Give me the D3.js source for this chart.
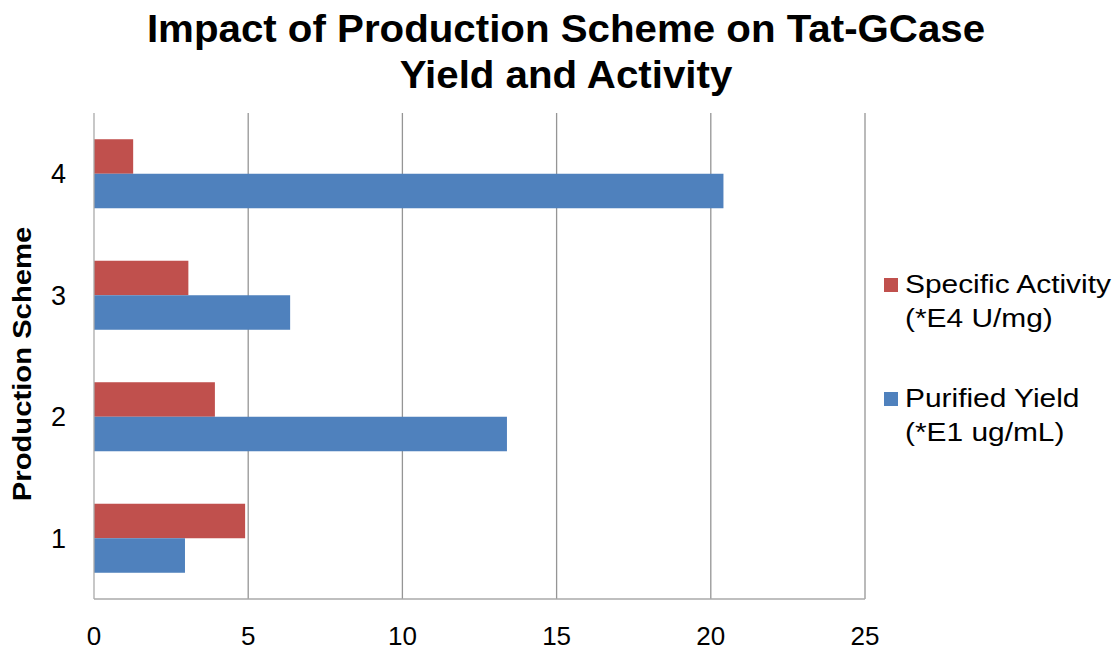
<!DOCTYPE html>
<html>
<head>
<meta charset="utf-8">
<script src="https://cdn.jsdelivr.net/npm/d3@7"></script>
<style>
body { margin: 0; background: #fff; }
text { font-family: "Liberation Sans", Arial, sans-serif; fill: #000; }
</style>
</head>
<body>
<svg></svg>
<script>
var width = 1115
var height = 649

var schemes = ["1", "2", "3", "4"]
var seriesNames = ["Specific Activity", "Purified Yield"]
var seriesUnits = ["(*E4 U/mg)", "(*E1 ug/mL)"]
var seriesColors = ["#C0504D", "#4F81BD"]
var activity = [4.9, 3.92, 3.06, 1.27]
var yieldVals = [2.95, 13.39, 6.36, 20.41]
var xTicks = [0, 5, 10, 15, 20, 25]

// plot box (note: "top" is reserved on window, so plotTop)
var plotLeft = 94, plotRight = 865, plotTop = 113, plotBottom = 599

var svg = d3.select("svg")
	.attr("width", width)
	.attr("height", height)

var data = schemes.map(function(s, i){
	return {scheme: s, values: [activity[i], yieldVals[i]]}
})

var xScale = d3.scaleLinear()
	.domain([0, 25])
	.range([plotLeft, plotRight])

// scheme 4 at the top
var yScale = d3.scaleBand()
	.domain(schemes.slice().reverse())
	.range([plotTop, plotBottom])
	.paddingInner(0.432)
	.paddingOuter(0.216)

var subScale = d3.scaleBand()
	.domain(d3.range(seriesNames.length))
	.range([0, yScale.bandwidth()])

// gridlines
svg.selectAll(".grid")
	.data(xTicks.slice(1))
	.join("line")
	.attr("class", "grid")
	.attr("x1", function(d){ return xScale(d) })
	.attr("x2", function(d){ return xScale(d) })
	.attr("y1", plotTop)
	.attr("y2", plotBottom)
	.attr("stroke", "#959595")
	.attr("stroke-width", 1.3)

// bars
var groups = svg.selectAll(".grp")
	.data(data)
	.join("g")
	.attr("class", "grp")
	.attr("transform", function(d){ return "translate(0," + yScale(d.scheme) + ")" })

groups.selectAll("rect")
	.data(function(d){ return d.values })
	.join("rect")
	.attr("x", xScale(0))
	.attr("y", function(d, i){ return subScale(i) })
	.attr("width", function(d){ return xScale(d) - xScale(0) })
	.attr("height", subScale.bandwidth())
	.attr("fill", function(d, i){ return seriesColors[i] })

// axis lines
svg.append("line")
	.attr("x1", plotLeft).attr("x2", plotLeft)
	.attr("y1", plotTop).attr("y2", plotBottom)
	.attr("stroke", "#aaaaaa").attr("stroke-width", 1.3)
svg.append("line")
	.attr("x1", plotLeft).attr("x2", plotRight)
	.attr("y1", plotBottom).attr("y2", plotBottom)
	.attr("stroke", "#aaaaaa").attr("stroke-width", 1.3)

// x tick labels
svg.selectAll(".xlab")
	.data(xTicks)
	.join("text")
	.attr("class", "xlab")
	.attr("x", function(d){ return xScale(d) })
	.attr("y", 645)
	.attr("text-anchor", "middle")
	.attr("font-size", 26)
	.text(function(d){ return d })

// y tick labels
svg.selectAll(".ylab")
	.data(schemes)
	.join("text")
	.attr("class", "ylab")
	.attr("x", 66)
	.attr("y", function(d){ return yScale(d) + yScale.bandwidth() / 2 })
	.attr("dy", "0.36em")
	.attr("text-anchor", "end")
	.attr("font-size", 27)
	.text(function(d){ return d })

// y axis title
svg.append("text")
	.attr("transform", "translate(31,364) rotate(-90) scale(1.17,1)")
	.attr("text-anchor", "middle")
	.attr("font-size", 25)
	.attr("font-weight", "bold")
	.text("Production Scheme")

// title
var titleLines = ["Impact of Production Scheme on Tat-GCase", "Yield and Activity"]
svg.selectAll(".title")
	.data(titleLines)
	.join("text")
	.attr("class", "title")
	.attr("transform", function(d, i){ return "translate(566," + (42 + i * 46) + ") scale(1.06,1)" })
	.attr("text-anchor", "middle")
	.attr("font-size", 38)
	.attr("font-weight", "bold")
	.text(function(d){ return d })

// legend
var legendY = [278, 392]
var legend = svg.selectAll(".leg")
	.data(seriesNames)
	.join("g")
	.attr("class", "leg")
	.attr("transform", function(d, i){ return "translate(884," + legendY[i] + ")" })

legend.append("rect")
	.attr("width", 14)
	.attr("height", 14)
	.attr("fill", function(d, i){ return seriesColors[i] })

legend.append("text")
	.attr("transform", "translate(21,15) scale(1.15,1)")
	.attr("font-size", 26)
	.text(function(d){ return d })

legend.append("text")
	.attr("transform", "translate(21,49) scale(1.15,1)")
	.attr("font-size", 26)
	.text(function(d, i){ return seriesUnits[i] })
</script>
</body>
</html>
